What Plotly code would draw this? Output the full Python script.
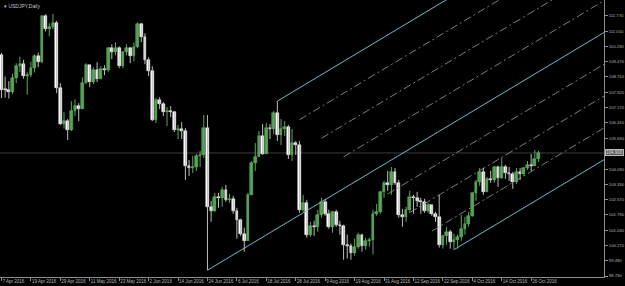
import plotly.graph_objects as go
import pandas as pd

# ---------------- data ----------------
dates = [d.strftime("%-d %b %Y") for d in pd.bdate_range("2016-04-07", "2016-10-28")]

opens = [109.81, 108.08,
         108.05, 107.96, 108.64, 109.28, 109.38,
         108.78, 108.81, 109.18, 109.74, 109.45,
         111.75, 111.14, 111.20, 111.42, 108.15,
         106.35, 106.50, 106.05, 107.00, 107.25,
         107.10, 108.40, 109.30, 108.45, 109.05,
         108.60, 109.10, 109.05, 110.15, 109.95,
         110.15, 109.25, 109.95, 110.15, 109.75,
         110.20, 111.35, 110.70, 109.55, 109.00,
         106.55, 107.55, 107.35, 106.95, 107.00,
         106.95, 106.05, 106.10, 106.00, 104.25,
         104.15, 104.20, 104.75, 104.80, 106.15,
         102.20, 102.00, 102.70, 102.65, 103.05,
         102.55, 102.60, 102.00, 101.55, 100.85,
         100.50, 102.80, 104.40, 104.70, 105.75,
         104.85, 106.15, 106.10, 106.90, 105.80,
         106.10, 106.20, 104.80, 105.40, 105.30,
         102.05, 102.40, 100.80, 101.25, 101.20,
         101.80, 102.45, 101.85, 101.20, 101.95,
         101.30, 101.25, 100.30, 100.25, 99.90,
         100.20, 100.80, 100.25, 100.50, 100.55,
         101.85, 101.95, 102.95, 103.40, 103.30,
         103.95, 103.40, 101.80, 101.70, 102.05,
         102.70, 102.65, 102.50, 102.45, 102.00,
         102.30, 101.85, 101.70, 100.30, 100.75,
         100.95, 100.45, 100.55, 100.70, 101.10,
         101.35, 101.75, 102.90, 103.45, 103.95,
         102.95, 103.60, 103.55, 104.20, 103.65,
         104.20, 103.90, 103.85, 103.45, 103.95,
         103.85, 104.15, 104.30, 104.25, 104.60]
highs = [109.92, 108.73,
         108.50, 108.88, 109.40, 109.73, 109.57,
         108.94, 109.48, 109.85, 109.93, 111.80,
         111.86, 111.40, 111.88, 111.52, 108.40,
         106.95, 106.60, 107.50, 107.58, 107.40,
         108.70, 109.40, 109.30, 109.20, 109.45,
         109.25, 109.30, 110.20, 110.35, 110.45,
         110.25, 110.00, 110.35, 110.20, 110.45,
         111.45, 111.42, 110.90, 109.70, 109.25,
         107.65, 107.70, 107.45, 107.20, 107.25,
         107.00, 106.30, 106.45, 106.15, 104.55,
         104.75, 104.85, 105.00, 106.80, 106.80,
         102.50, 102.90, 102.90, 103.20, 103.30,
         102.85, 102.75, 102.15, 101.60, 101.15,
         102.90, 104.50, 105.40, 106.00, 106.35,
         106.40, 106.35, 107.00, 107.50, 106.60,
         106.50, 106.30, 106.10, 105.50, 105.50,
         102.80, 102.55, 101.45, 101.50, 102.05,
         102.65, 102.60, 102.05, 102.00, 102.05,
         101.50, 101.30, 100.80, 100.35, 100.60,
         100.90, 100.85, 100.65, 100.65, 102.05,
         102.35, 103.00, 103.50, 104.00, 104.20,
         104.15, 103.55, 102.10, 102.20, 103.00,
         102.80, 102.95, 102.65, 102.60, 102.40,
         102.30, 101.95, 102.80, 100.80, 101.20,
         101.05, 100.85, 100.80, 101.80, 101.70,
         101.95, 102.95, 103.55, 104.15, 104.15,
         103.70, 104.00, 104.25, 104.25, 104.65,
         104.30, 104.20, 103.95, 104.15, 104.15,
         104.20, 104.50, 104.85, 105.05, 105.00]
lows = [107.65, 107.68,
        107.63, 107.85, 108.40, 108.96, 108.62,
        107.82, 108.70, 108.93, 109.20, 109.40,
        110.99, 110.75, 111.10, 107.90, 106.30,
        106.12, 105.55, 106.00, 106.75, 106.50,
        107.10, 108.35, 108.20, 108.35, 108.45,
        108.60, 108.80, 108.95, 109.60, 109.80,
        109.15, 109.15, 109.80, 109.40, 109.50,
        110.15, 110.45, 109.35, 108.75, 106.50,
        106.40, 107.10, 106.75, 106.25, 106.70,
        105.95, 105.60, 105.60, 103.55, 103.75,
        103.90, 104.00, 104.20, 104.65, 99.02,
        101.45, 101.95, 102.15, 102.20, 102.45,
        102.40, 101.85, 100.60, 100.75, 99.95,
        100.50, 102.80, 104.00, 104.70, 104.80,
        104.85, 105.60, 105.85, 105.50, 105.30,
        105.75, 104.60, 104.50, 104.80, 101.90,
        101.95, 100.65, 100.70, 100.75, 100.95,
        101.65, 101.75, 101.10, 100.90, 101.20,
        100.80, 99.55, 99.60, 99.55, 99.75,
        100.10, 99.95, 100.05, 100.20, 99.80,
        101.75, 101.85, 102.65, 103.00, 102.80,
        103.30, 101.65, 101.20, 101.45, 101.90,
        101.85, 102.20, 101.85, 101.90, 101.90,
        101.75, 101.45, 100.15, 100.10, 100.30,
        100.10, 100.05, 100.10, 100.50, 100.80,
        101.20, 101.70, 102.50, 103.25, 102.80,
        102.95, 103.40, 103.40, 103.20, 103.60,
        103.60, 103.50, 103.10, 103.35, 103.55,
        103.75, 104.05, 104.00, 104.25, 104.45]
closes = [108.08, 108.05,
          107.96, 108.64, 109.28, 109.38, 108.78,
          108.81, 109.18, 109.74, 109.45, 111.75,
          111.14, 111.20, 111.42, 108.15, 106.35,
          106.50, 106.05, 107.00, 107.25, 107.10,
          108.40, 109.30, 108.45, 109.05, 108.60,
          109.10, 109.05, 110.15, 109.95, 110.15,
          109.25, 109.95, 110.15, 109.75, 110.20,
          111.35, 110.70, 109.55, 109.00, 106.55,
          107.55, 107.35, 106.95, 107.00, 106.95,
          106.05, 106.10, 106.00, 104.25, 104.15,
          104.20, 104.75, 104.80, 106.15, 102.20,
          102.00, 102.70, 102.65, 103.05, 102.55,
          102.60, 102.00, 101.55, 100.85, 100.50,
          102.80, 104.40, 104.70, 105.75, 104.85,
          106.15, 106.10, 106.90, 105.80, 106.10,
          106.20, 104.80, 105.40, 105.30, 102.05,
          102.40, 100.80, 101.25, 101.20, 101.80,
          102.45, 101.85, 101.20, 101.95, 101.30,
          101.25, 100.30, 100.25, 99.90, 100.20,
          100.80, 100.25, 100.50, 100.55, 101.85,
          101.95, 102.95, 103.40, 103.30, 103.95,
          103.40, 101.80, 101.70, 102.05, 102.70,
          102.65, 102.50, 102.45, 102.00, 102.30,
          101.85, 101.70, 100.30, 100.75, 100.95,
          100.45, 100.55, 100.70, 101.10, 101.35,
          101.75, 102.90, 103.45, 103.95, 102.95,
          103.60, 103.55, 104.20, 103.65, 104.20,
          103.90, 103.85, 103.45, 103.95, 103.85,
          104.15, 104.30, 104.25, 104.60, 104.90]

xtick_labels = ["7 Apr 2016", "19 Apr 2016", "29 Apr 2016", "11 May 2016", "23 May 2016",
                "2 Jun 2016", "14 Jun 2016", "24 Jun 2016", "6 Jul 2016", "18 Jul 2016",
                "28 Jul 2016", "9 Aug 2016", "19 Aug 2016", "31 Aug 2016", "12 Sep 2016",
                "22 Sep 2016", "4 Oct 2016", "14 Oct 2016", "26 Oct 2016"]
ytick_values = [111.770, 111.010, 110.230, 109.470, 108.710, 107.920, 107.170, 106.410,
                105.630, 104.090, 103.330, 102.570, 101.790, 101.030, 100.270,
                99.490, 98.730]

# Andrews pitchfork anchors (bar indices): handle low, swing high, swing low
pivot_idx = [56, 75, 123]
fork_levels = [0.0, 0.125, 0.25, 0.375, 0.5, 0.625, 0.75, 0.875, 1.0]

# ---------------- figure ----------------
n = len(closes)
xs = list(range(n))
bull = [i for i in xs if closes[i] >= opens[i]]
bear = [i for i in xs if closes[i] < opens[i]]

fig = go.Figure()


def wick_trace(idx, color):
    wx, wy = [], []
    for i in idx:
        wx += [i, i, None]
        wy += [lows[i], highs[i], None]
    return go.Scatter(x=wx, y=wy, mode="lines", line=dict(color=color, width=1),
                      hoverinfo="skip", showlegend=False)


def body_trace(idx, fill, edge):
    base = [min(opens[i], closes[i]) for i in idx]
    h = [max(abs(closes[i] - opens[i]), 0.04) for i in idx]
    return go.Bar(x=idx, y=h, base=base, width=0.74,
                  marker=dict(color=fill, line=dict(color=edge, width=0.5)),
                  customdata=[dates[i] for i in idx], hovertemplate="%{customdata}<extra></extra>",
                  showlegend=False)


# pitchfork
p1 = (pivot_idx[0], lows[pivot_idx[0]])
p2 = (pivot_idx[1], highs[pivot_idx[1]])
p3 = (pivot_idx[2], lows[pivot_idx[2]])
mid = ((p2[0] + p3[0]) / 2, (p2[1] + p3[1]) / 2)
slope = (mid[1] - p1[1]) / (mid[0] - p1[0])
x_end = 175
for k in fork_levels:
    if k == 0.5:
        sx, sy = p1
    else:
        sx = p2[0] + k * (p3[0] - p2[0])
        sy = p2[1] + k * (p3[1] - p2[1])
    ey = sy + slope * (x_end - sx)
    solid = k in (0.0, 0.5, 1.0)
    fig.add_trace(go.Scatter(
        x=[sx, x_end], y=[sy, ey], mode="lines", hoverinfo="skip", showlegend=False,
        line=dict(color="#66bcc4" if solid else "#7c7c7c", width=1,
                  dash="solid" if solid else "8px,3px,2px,3px")))

fig.add_trace(wick_trace(bear, "#bdbdbd"))
fig.add_trace(wick_trace(bull, "#5aa85a"))
fig.add_trace(body_trace(bear, "#ffffff", "#ffffff"))
fig.add_trace(body_trace(bull, "#4a9a4a", "#7cc47c"))

last = closes[-1]
fig.add_shape(type="line", xref="paper", x0=0, x1=1, yref="y", y0=last, y1=last,
              line=dict(color="#3c3c3c", width=1), layer="below")

fig.add_annotation(xref="paper", x=1, xanchor="left", yref="y", y=last, yanchor="middle",
                   text=f"{last:.3f}", showarrow=False, xshift=1,
                   font=dict(family="Liberation Sans", size=4.5, color="#e8e8e8"),
                   bgcolor="#555555", bordercolor="#bbbbbb", borderwidth=1, borderpad=0)

fig.add_annotation(xref="paper", x=0, xanchor="left", yref="paper", y=1, yanchor="top",
                   text="▾ USDJPY,Daily", showarrow=False, xshift=2, yshift=-1,
                   font=dict(family="Liberation Sans", size=5, color="#c8c8c8"))

fig.update_layout(
    width=625, height=286,
    margin=dict(l=0, r=19, t=0, b=9),
    paper_bgcolor="#000000", plot_bgcolor="#000000",
    barmode="overlay", bargap=0,
    showlegend=False,
    xaxis=dict(range=[-0.4, 163.8], showgrid=False, zeroline=False,
               showline=True, linecolor="#8c8c8c", linewidth=1,
               ticks="outside", ticklen=3, tickcolor="#8c8c8c",
               tickvals=[dates.index(lbl) for lbl in xtick_labels], ticktext=xtick_labels,
               ticklabelposition="outside right", tickangle=0,
               tickfont=dict(family="Liberation Sans", size=4.5, color="#b8b8b8")),
    yaxis=dict(range=[98.68, 112.57], side="right", showgrid=False, zeroline=False,
               showline=True, linecolor="#8c8c8c", linewidth=1,
               ticks="outside", ticklen=3, tickcolor="#8c8c8c",
               tickvals=ytick_values, ticktext=[f"{v:.3f}" for v in ytick_values],
               tickfont=dict(family="Liberation Sans", size=4.2, color="#b8b8b8")),
)

fig.write_html("out.html")
